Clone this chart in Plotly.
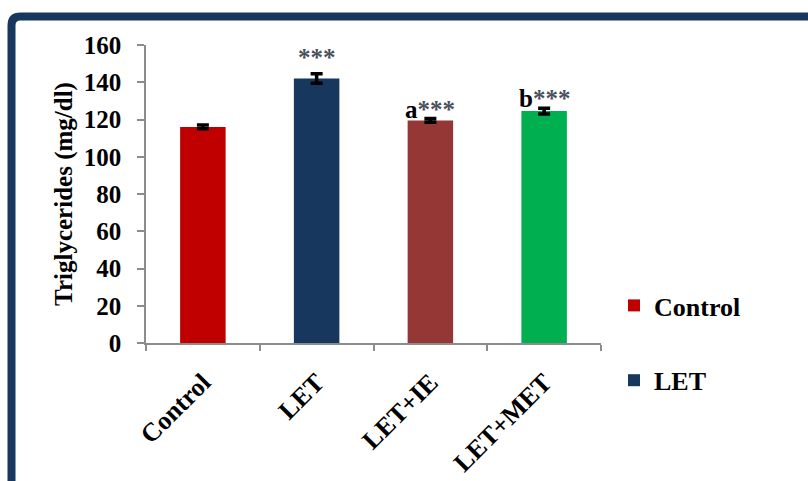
import plotly.graph_objects as go

# Serum triglycerides per treatment group (mean ± SEM)
groups = ["Control", "LET", "LET+IE", "LET+MET"]
triglycerides = [116, 142, 119.5, 124.5]
sem = [1.0, 2.5, 1.0, 1.5]
bar_colors = ["#C00000", "#17375E", "#953735", "#00B050"]
in_legend = [True, True, False, False]
sig_labels = ["", "***", "a***", "b***"]

y_ticks = [0, 20, 40, 60, 80, 100, 120, 140, 160]

SERIF = "Liberation Serif"

fig = go.Figure()
for g, v, e, c, show in zip(groups, triglycerides, sem, bar_colors, in_legend):
    fig.add_trace(go.Bar(
        x=[g], y=[v], name=g, legendgroup=g, showlegend=show,
        marker=dict(color=c, line=dict(width=0)),
        width=0.4,
        error_y=dict(type="data", array=[e], color="black", thickness=3.5, width=6),
    ))

# significance markers above the bars
for g, v, e, s in zip(groups, triglycerides, sem, sig_labels):
    if not s:
        continue
    if s.startswith("***"):
        txt = "<span style='color:#4a4f5c'>***</span>"
        shift = 1
    else:
        txt = s[0] + "<span style='color:#4a4f5c'>" + s[1:] + "</span>"
        shift = -6
    fig.add_annotation(
        x=g, y=v + e, text=txt, showarrow=False, yanchor="bottom", yshift=shift,
        font=dict(family=SERIF, size=25, color="black", weight="bold"),
    )

# dark rounded frame around the chart
L, W, T, H = 146, 455, 45, 298
def px(x):
    return (x - L) / W
def py(y):
    return (T + H - y) / H
x0, y0, r = 11.5, 16.5, 9
frame = (f"M {px(x0)},{py(520)} L {px(x0)},{py(y0 + r)} "
         f"Q {px(x0)},{py(y0)} {px(x0 + r)},{py(y0)} L {px(840)},{py(y0)}")
fig.add_shape(type="path", path=frame, xref="paper", yref="paper",
              line=dict(color="#17375E", width=8))

fig.update_layout(
    width=808, height=481,
    margin=dict(l=L, r=808 - L - W, t=T, b=481 - T - H),
    paper_bgcolor="white", plot_bgcolor="white",
    barmode="overlay", bargap=0.6,
    font=dict(family=SERIF, size=24, color="black"),
    showlegend=True,
    legend=dict(
        x=px(614), xanchor="left", y=py(282), yanchor="top",
        font=dict(family=SERIF, size=26, color="black", weight="bold"),
        tracegroupgap=38, bgcolor="rgba(0,0,0,0)",
    ),
)
fig.update_xaxes(
    type="category", tickson="boundaries", automargin=False,
    showline=True, linecolor="#8c8c8c", linewidth=1.5,
    ticks="outside", ticklen=6, tickcolor="#8c8c8c", tickwidth=1.5,
    tickangle=-45, ticklabelstandoff=12,
    tickfont=dict(family=SERIF, size=26, color="black", weight="bold"),
    showgrid=False, zeroline=False,
)
fig.update_yaxes(
    range=[0, 160], tickvals=y_ticks, automargin=False,
    showline=True, linecolor="#8c8c8c", linewidth=1.5,
    ticks="outside", ticklen=7, tickcolor="#8c8c8c", tickwidth=1.5,
    ticklabelstandoff=11,
    tickfont=dict(family=SERIF, size=25, color="black", weight="bold"),
    title=dict(text="Triglycerides (mg/dl)", standoff=4,
               font=dict(family=SERIF, size=25, color="black", weight="bold")),
    showgrid=False, zeroline=False,
)

fig.write_html("out.html")
